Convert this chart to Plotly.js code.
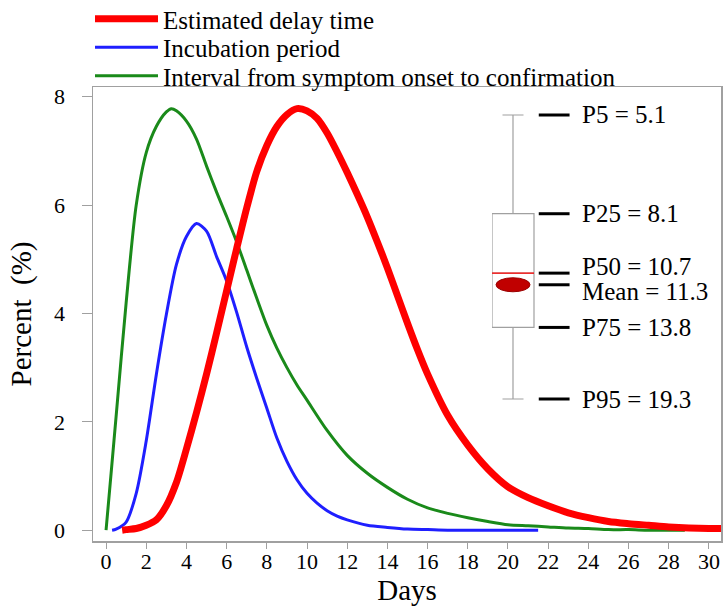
<!DOCTYPE html>
<html>
<head>
<meta charset="utf-8">
<script src="https://cdn.plot.ly/plotly-3.0.1.min.js"></script>
<style>html,body{margin:0;padding:0;background:#fff;}#chart{width:725px;height:610px;}</style>
</head>
<body>
<div id="chart"></div>
<script>
// ---- Data ----
const seriesNames = ['Estimated delay time', 'Incubation period', 'Interval from symptom onset to confirmation'];

const delayDays = [0.8, 1, 1.5, 2, 2.5, 3, 3.5, 4, 4.5, 5, 5.5, 6, 6.5, 7, 7.5, 8, 8.5, 9, 9.5, 10, 10.5, 11, 11.5, 12, 12.5, 13, 13.5, 14, 14.5, 15, 15.5, 16, 17, 18, 19, 20, 21, 22, 23, 24, 25, 26, 27, 28, 29, 30, 30.6];
const delayPct  = [0, 0.01, 0.03, 0.09, 0.19, 0.45, 0.88, 1.5, 2.17, 2.88, 3.64, 4.42, 5.2, 5.95, 6.62, 7.1, 7.45, 7.67, 7.78, 7.74, 7.6, 7.33, 6.98, 6.6, 6.2, 5.78, 5.32, 4.84, 4.33, 3.82, 3.33, 2.88, 2.12, 1.57, 1.13, 0.8, 0.6, 0.45, 0.32, 0.23, 0.16, 0.12, 0.09, 0.06, 0.04, 0.03, 0.03];

const incubDays = [0.3, 0.5, 1, 1.5, 2, 2.5, 3, 3.5, 4, 4.5, 5, 5.5, 6, 6.5, 7, 7.5, 8, 8.5, 9, 9.5, 10, 10.5, 11, 11.5, 12, 13, 14, 15, 16, 17, 18, 19, 20, 21, 21.5];
const incubPct  = [0, 0.02, 0.15, 0.68, 1.65, 2.87, 3.98, 4.9, 5.42, 5.66, 5.52, 5.05, 4.6, 4.02, 3.38, 2.8, 2.25, 1.7, 1.27, 0.93, 0.68, 0.5, 0.36, 0.26, 0.19, 0.09, 0.05, 0.02, 0.01, 0, 0, 0, 0, 0, 0];

const onsetDays = [0, 0.25, 0.5, 1, 1.5, 2, 2.5, 3, 3.25, 3.5, 4, 4.5, 5, 5.5, 6, 6.5, 7, 7.5, 8, 8.5, 9, 9.5, 10, 11, 12, 13, 14, 15, 16, 17, 18, 19, 20, 21, 22, 23, 24, 25, 26, 27, 28, 28.8];
const onsetPct  = [0, 1.05, 2.1, 4.2, 6.0, 6.97, 7.45, 7.72, 7.78, 7.74, 7.55, 7.22, 6.72, 6.24, 5.79, 5.32, 4.8, 4.28, 3.78, 3.36, 3.0, 2.68, 2.4, 1.84, 1.38, 1.05, 0.79, 0.57, 0.41, 0.31, 0.23, 0.16, 0.1, 0.08, 0.06, 0.04, 0.03, 0.01, 0.01, 0, 0, 0];

const xTickVals = [0, 2, 4, 6, 8, 10, 12, 14, 16, 18, 20, 22, 24, 26, 28, 30];
const yTickVals = [0, 2, 4, 6, 8];

// Box-plot summary of the estimated delay time
const boxLabels = ['P5', 'P25', 'Mean', 'P50', 'P75', 'P95'];
const boxValues = [5.1, 8.1, 11.3, 10.7, 13.8, 19.3];

// ---- Styling / layout ----
const FONT = 'Liberation Serif';
const W = 725, H = 610;
const M = {l: 93, r: 4, t: 87, b: 69, autoexpand: false};
const plotH = H - M.t - M.b, plotW = W - M.l - M.r;
const py2paper = p => (H - M.b - p) / plotH;
const px2paper = p => (p - M.l) / plotW;

const val = k => boxValues[boxLabels.indexOf(k)];
const lg = Math.log10;

// inset axes for the box plot (hidden): y2 holds log10 of the values, reversed
const boxTopPx = 115, boxBotPx = 399;
const y2DomPx = [105, 410];
const s = (lg(val('P95')) - lg(val('P5'))) / (boxBotPx - boxTopPx);
const y2Top = lg(val('P5')) - (boxTopPx - y2DomPx[0]) * s;
const y2Bot = lg(val('P95')) + (y2DomPx[1] - boxBotPx) * s;
const y2Domain = [py2paper(y2DomPx[1]), py2paper(y2DomPx[0])];
const x2Domain = [px2paper(492), px2paper(702)];
const boxW = 1, dashX = 0.98, labelX = 1.6;

const lineColors = ['#ff0000', '#1f1fff', '#1a8a1a'];
const lineWidths = [7, 3, 3];
const legendIds = ['legend', 'legend2', 'legend3'];
const GRAY = '#a0a0a0';

const traces = [
  {x: onsetDays, y: onsetPct, name: seriesNames[2], type: 'scatter', mode: 'lines', legend: legendIds[2],
   line: {color: lineColors[2], width: lineWidths[2], shape: 'spline', smoothing: 0.8}, hoverinfo: 'skip'},
  {x: incubDays, y: incubPct, name: seriesNames[1], type: 'scatter', mode: 'lines', legend: legendIds[1],
   line: {color: lineColors[1], width: lineWidths[1], shape: 'spline', smoothing: 0.8}, hoverinfo: 'skip'},
  {x: delayDays, y: delayPct, name: seriesNames[0], type: 'scatter', mode: 'lines', legend: legendIds[0],
   line: {color: lineColors[0], width: lineWidths[0], shape: 'spline', smoothing: 0.8}, hoverinfo: 'skip'},
  {type: 'box', x: [0], xaxis: 'x2', yaxis: 'y2', width: boxW,
   q1: [lg(val('P25'))], median: [lg(val('P50'))], q3: [lg(val('P75'))],
   lowerfence: [lg(val('P5'))], upperfence: [lg(val('P95'))],
   line: {color: GRAY, width: 1.2}, fillcolor: '#ffffff', whiskerwidth: 0.5,
   showlegend: false, hoverinfo: 'skip'},
  {type: 'scatter', mode: 'lines', xaxis: 'x2', yaxis: 'y2',
   x: [-boxW / 2, boxW / 2], y: [lg(val('P50')), lg(val('P50'))],
   line: {color: '#ff0000', width: 1.3}, showlegend: false, hoverinfo: 'skip'},
  {type: 'scatter', mode: 'markers', xaxis: 'x2', yaxis: 'y2', cliponaxis: false,
   x: boxValues.map(() => dashX), y: boxValues.map(lg),
   marker: {symbol: 'line-ew', size: 22, line: {width: 3, color: '#000'}},
   showlegend: false, hoverinfo: 'skip'}
];

const labelShift = {Mean: -7, P50: 7};
const annotations = boxLabels.map((k, i) => ({
  xref: 'x2', yref: 'y2', x: labelX, y: lg(boxValues[i]), xanchor: 'left', yanchor: 'middle',
  yshift: labelShift[k] || 0, showarrow: false,
  text: k + ' = ' + boxValues[i].toFixed(1), font: {family: FONT, size: 25, color: '#000'}
}));

const legendRowPx = [19, 47.5, 76];
const mkLegend = i => ({x: px2paper(90), xanchor: 'left', y: py2paper(legendRowPx[i]), yanchor: 'middle',
  bgcolor: 'rgba(0,0,0,0)', borderwidth: 0, font: {family: FONT, size: 25, color: '#000'}, itemwidth: 63});

const layout = {
  width: W, height: H, margin: M,
  paper_bgcolor: '#fff', plot_bgcolor: '#fff',
  font: {family: FONT, color: '#000'},
  showlegend: true,
  legend: mkLegend(0), legend2: mkLegend(1), legend3: mkLegend(2),
  xaxis: {range: [-0.65, 30.6], tickvals: xTickVals, ticks: '',
          minor: {tickmode: 'array', tickvals: xTickVals, ticks: 'outside', ticklen: 6, tickcolor: GRAY, showgrid: false},
          showline: true, mirror: true, linecolor: GRAY, linewidth: 1.5, showgrid: false, zeroline: false,
          tickfont: {family: FONT, size: 22}, title: {text: 'Days', font: {family: FONT, size: 29}, standoff: 6}},
  yaxis: {range: [-0.2, 8.18], tickvals: yTickVals, ticks: 'outside', ticklen: 10, tickcolor: GRAY,
          showline: true, mirror: true, linecolor: GRAY, linewidth: 1.5, showgrid: false, zeroline: false,
          ticklabelstandoff: 12,
          tickfont: {family: FONT, size: 22}, title: {text: 'Percent&nbsp;&nbsp;(%)', font: {family: FONT, size: 29}, standoff: 14}},
  xaxis2: {domain: x2Domain, range: [-0.5, 4.5], anchor: 'y2', visible: false, fixedrange: true},
  yaxis2: {domain: y2Domain, range: [y2Bot, y2Top], anchor: 'x2', visible: false, fixedrange: true},
  shapes: [{type: 'circle', xref: 'x2', yref: 'y2', xsizemode: 'pixel', ysizemode: 'pixel',
            xanchor: 0, yanchor: lg(val('Mean')), x0: -17, x1: 17, y0: -7, y1: 7,
            fillcolor: '#c00000', line: {color: '#9a0000', width: 1}}],
  annotations: annotations
};

Plotly.newPlot('chart', traces, layout, {displayModeBar: false, staticPlot: true});
</script>
</body>
</html>
